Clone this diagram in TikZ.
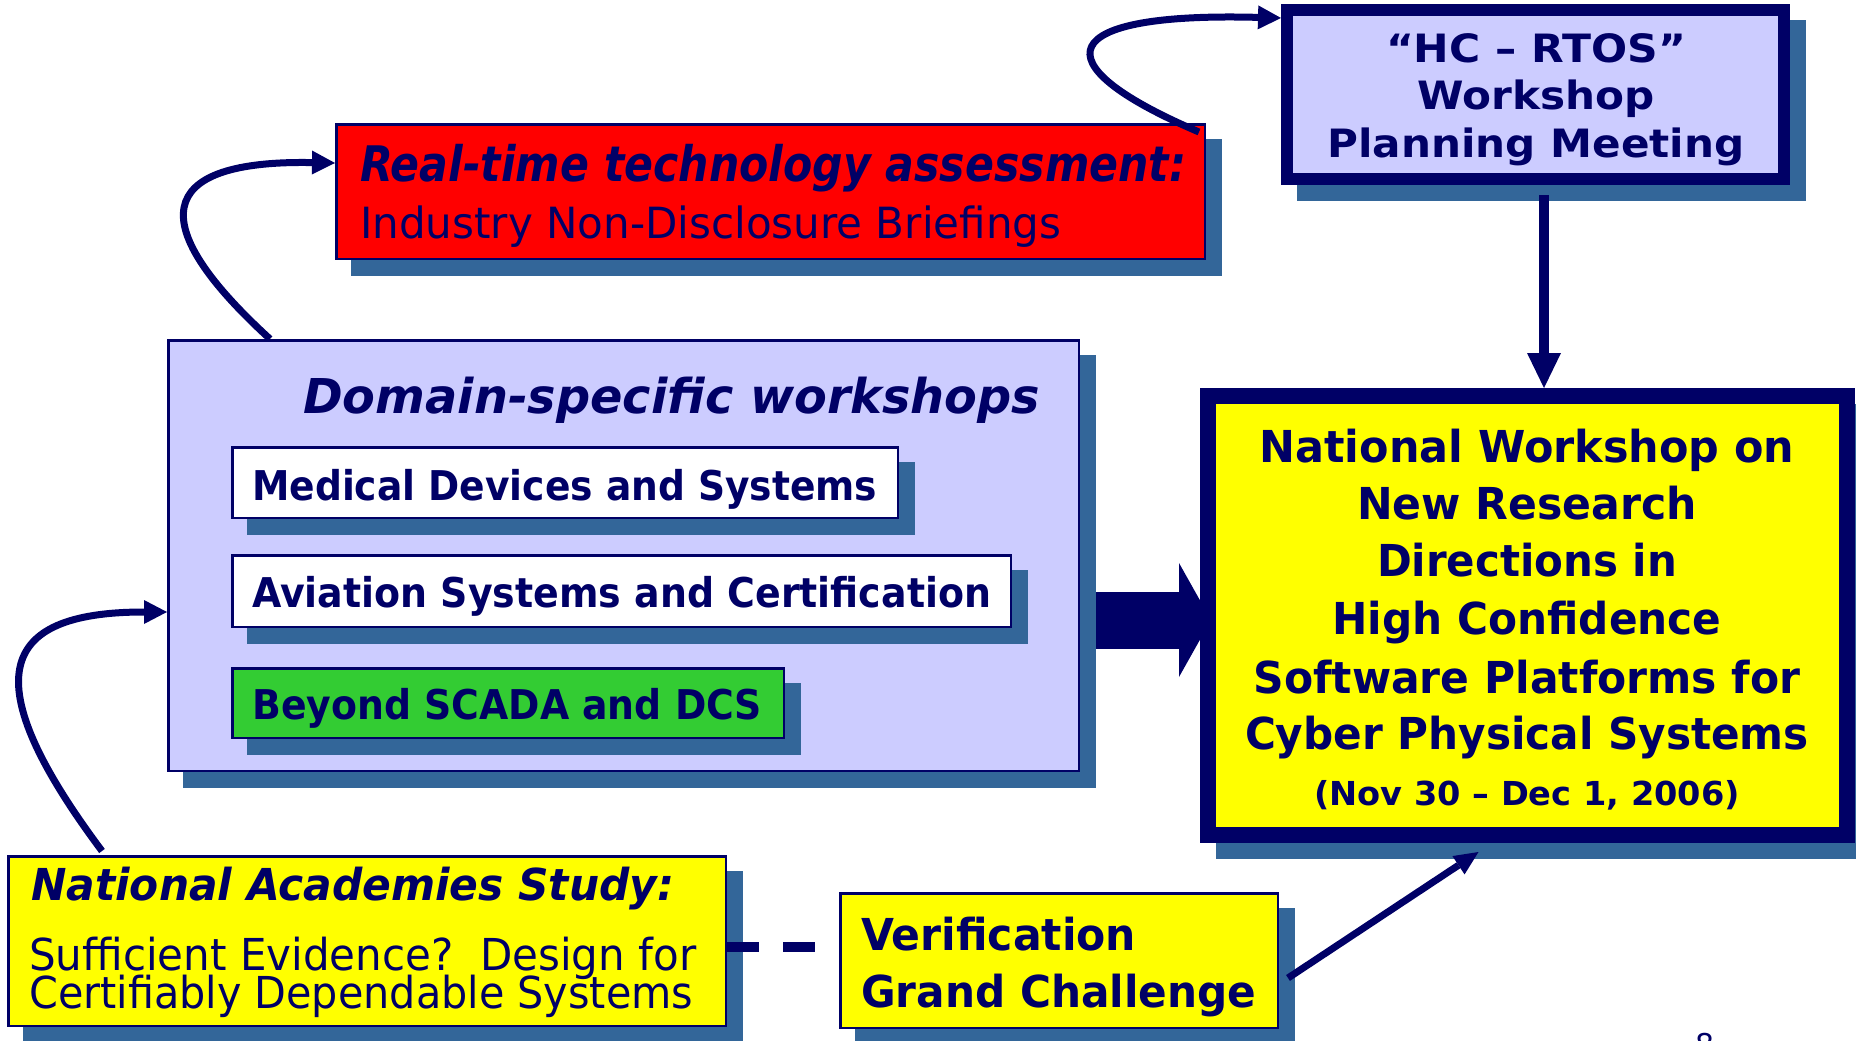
\documentclass[tikz,border=0pt]{standalone}
\usepackage{fontspec}
\setmainfont{DejaVu Sans}
\usepackage{graphicx}
\usetikzlibrary{arrows.meta}

\definecolor{navy}{HTML}{000066}
\definecolor{shadowblue}{HTML}{336699}
\definecolor{lavender}{HTML}{CCCCFF}
\definecolor{brightred}{HTML}{FF0000}
\definecolor{brightyellow}{HTML}{FFFF00}
\definecolor{leafgreen}{HTML}{33CC33}

\pgfdeclarelayer{bg}
\pgfsetlayers{bg,main}

% set a line of text to a given width (in pt) by horizontal scaling
\newsavebox\fitbox
\newcommand\fitto[2]{\sbox\fitbox{#2}\pgfmathsetmacro\fitratio{#1/\the\wd\fitbox}\scalebox{\fitratio}[1]{\usebox\fitbox}}

% box with a flat offset shadow: style, name, x, y, width, height, border width
\newcommand\panel[7]{%
  \fill[shadowblue] (#3+16,#4+16) rectangle (#3+#5+16,#4+#6+16);
  \node[#1, draw=navy, line width=#7pt, anchor=north west, inner sep=0pt,
        minimum width=#5pt-#7pt, minimum height=#6pt-#7pt] (#2) at (#3,#4) {};}

\tikzset{
  txtB/.style={font={\bfseries\fontsize{#1}{#1}\selectfont}, text=navy, inner sep=0pt},
  txtBI/.style={font={\bfseries\itshape\fontsize{#1}{#1}\selectfont}, text=navy, inner sep=0pt},
  txtR/.style={font={\fontsize{#1}{#1}\selectfont}, text=navy, inner sep=0pt},
  curvearrow/.style={draw=navy, line width=7pt, -{Triangle[length=23pt,width=24pt,line width=0pt]}},
  straightarrow/.style={draw=navy, line width=7pt, -{Triangle[length=24pt,width=22pt,line width=0pt]}},
  downarrow/.style={draw=navy, line width=10pt, -{Triangle[length=35pt,width=34pt,line width=0pt]}},
  fatarrow/.style={draw=navy, line width=57pt, -{Triangle[length=32pt,width=114pt,line width=0pt]}},
  dashlink/.style={draw=navy, line width=10pt, dash pattern=on 32pt off 24pt},
}

\begin{document}
\begin{tikzpicture}[x=1pt,y=-1pt]
\useasboundingbox (0,0) rectangle (1856,1041);

% boxes
\panel{fill=brightred}{red}{335}{123}{871}{137}{2.5}
\panel{fill=lavender}{hc}{1281}{4}{509}{181}{12}
\panel{fill=lavender}{dom}{167}{339}{913}{433}{2.5}
\panel{fill=white}{med}{231}{446}{668}{73}{2.5}
\panel{fill=white}{avi}{231}{554}{781}{74}{2.5}
\panel{fill=leafgreen}{bey}{231}{667}{554}{72}{2.5}
\panel{fill=brightyellow}{nat}{1200}{388}{655}{455}{16}
\panel{fill=brightyellow}{acad}{7}{855}{720}{172}{2.5}
\panel{fill=brightyellow}{ver}{839}{892}{440}{137}{2.5}

% texts
\node[txtBI={49}, anchor=base west] (redA) at (360,181) {\fitto{826}{Real-time technology assessment:}};
\node[txtR={43}, anchor=base west] (redB) at (360,238) {\fitto{701}{Industry Non-Disclosure Briefings}};

\node[txtB={39}, anchor=base] (hcA) at (1536,63) {\fitto{300}{“HC – RTOS”}};
\node[txtB={39}, anchor=base] (hcB) at (1536,110) {\fitto{237}{Workshop}};
\node[txtB={39}, anchor=base] (hcC) at (1536,157) {\fitto{417}{Planning Meeting}};

\node[txtBI={48}, anchor=base west] (domT) at (303,413) {\fitto{737}{Domain-specific workshops}};
\node[txtB={41}, anchor=base west] (medT) at (252,500) {\fitto{625}{Medical Devices and Systems}};
\node[txtB={41}, anchor=base west] (aviT) at (252,607) {\fitto{739}{Aviation Systems and Certification}};
\node[txtB={41}, anchor=base west] (beyT) at (252,719) {\fitto{510}{Beyond SCADA and DCS}};

\node[txtB={44}, anchor=base] (natA) at (1527,462) {\fitto{535}{National Workshop on}};
\node[txtB={44}, anchor=base] (natB) at (1527,519) {\fitto{340}{New Research}};
\node[txtB={44}, anchor=base] (natC) at (1527,576) {\fitto{300}{Directions in}};
\node[txtB={44}, anchor=base] (natD) at (1527,634) {\fitto{389}{High Confidence}};
\node[txtB={44}, anchor=base] (natE) at (1527,693) {\fitto{547}{Software Platforms for}};
\node[txtB={44}, anchor=base] (natF) at (1527,749) {\fitto{564}{Cyber Physical Systems}};
\node[txtB={33}, anchor=base] (natG) at (1527,805) {\fitto{426}{(Nov 30 – Dec 1, 2006)}};

\node[txtBI={44}, anchor=base west] (acadA) at (31,900) {\fitto{643}{National Academies Study:}};
\node[txtR={44}, anchor=base west] (acadB) at (29,970) {\fitto{667}{Sufficient Evidence?\ \ Design for}};
\node[txtR={44}, anchor=base west] (acadC) at (29,1008) {\fitto{664}{Certifiably Dependable Systems}};

\node[txtB={44}, anchor=base west] (verA) at (861,950) {\fitto{275}{Verification}};
\node[txtB={44}, anchor=base west] (verB) at (861,1007) {\fitto{395}{Grand Challenge}};

\node[txtR={30}, anchor=north] (pageno) at (1705,1033) {8};

% connectors
\begin{pgfonlayer}{bg}
  \path (dom.east |- nat.west) ++(15,4.5) coordinate (fatS);
  \path (nat.west) ++(11,4.5) coordinate (fatE);
  \draw[fatarrow] (fatS) -- (fatE);
\end{pgfonlayer}

\draw[curvearrow] ([shift={(103,0)}]dom.north west)
  .. controls +(-140,-128) and +(-164,-3) .. ([shift={(0,40)}]red.north west);
\draw[curvearrow] ([shift={(95,-4)}]acad.north west)
  .. controls +(-127,-170) and +(-171,0) .. ([shift={(0,273)}]dom.north west);
\draw[curvearrow] ([shift={(-7,9)}]red.north east)
  .. controls +(-164,-70) and +(-224,-6) .. ([shift={(0,14)}]hc.north west);

\path ([shift={(8.5,10)}]hc.south) coordinate (downS);
\draw[downarrow] (downS) -- (downS |- nat.north);

\draw[straightarrow] ([shift={(9,17.5)}]ver.east) -- ([shift={(-49,9)}]nat.south);

\draw[dashlink] ([shift={(0,6)}]acad.east) -- ([shift={(0,6)}]acad.east -| ver.west);
\end{tikzpicture}
\end{document}
